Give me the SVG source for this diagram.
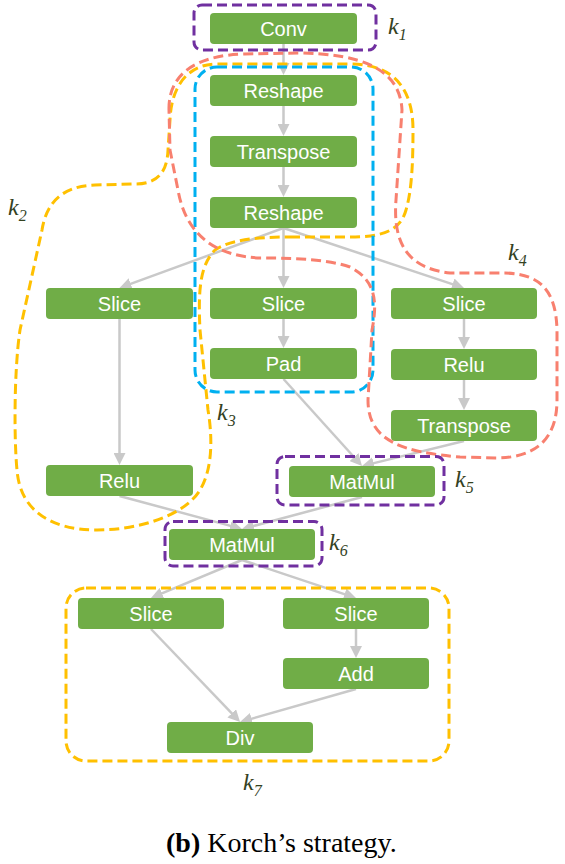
<svg xmlns="http://www.w3.org/2000/svg" width="565" height="864" viewBox="0 0 565 864">
<style>
.n rect{fill:#70AD47;}
.n text{fill:#FFFFFF;font-family:"Liberation Sans",Arial,sans-serif;font-size:20px;text-anchor:middle;}
.e path{fill:none;stroke:#C9C9C9;stroke-width:2.5;marker-end:url(#arr);}
.g{fill:none;stroke-width:3;stroke-dasharray:10 5;}
.pu{stroke:#7030A0;}
.ye{stroke:#FFC000;}
.re{stroke:#F8806F;}
.bl{stroke:#00B0F0;}
.k{font-family:"Liberation Serif","Times New Roman",serif;font-style:italic;font-size:24px;fill:#34421F;}
.k tspan{font-size:16px;}
</style>
<defs>
<marker id="arr" markerWidth="12" markerHeight="12" refX="6" refY="6" orient="auto" markerUnits="userSpaceOnUse">
<path d="M0,0 L12,6 L0,12 Z" fill="#C9C9C9"/>
</marker>
</defs>
<rect width="565" height="864" fill="#FFFFFF"/>
<g id="connectors" class="e">
<path d="M283.5,44 L283.5,69"/>
<path d="M283.5,106 L283.5,130"/>
<path d="M283.5,167 L283.5,191"/>
<path d="M283.5,228 L125.1,285.9"/>
<path d="M283.5,228 L283.5,282"/>
<path d="M283.5,228 L458.3,286.1"/>
<path d="M119.5,319 L119.5,459"/>
<path d="M283.5,319 L283.5,342"/>
<path d="M464,319 L464,343"/>
<path d="M464,380 L464,404"/>
<path d="M283.5,379 L358,461.5"/>
<path d="M464,441 L367.8,464.6"/>
<path d="M119.5,496 L236.2,527.4"/>
<path d="M362,497 L247.8,527.5"/>
<path d="M242,560 L156.5,595.7"/>
<path d="M242,560 L350.3,596.1"/>
<path d="M151,629 L235.9,717.7"/>
<path d="M356,629 L356,652"/>
<path d="M356,689 L245.8,720.4"/>
</g>
<g id="conv" class="n"><rect x="210" y="13" width="147" height="31" rx="4"/><text x="283.5" y="35.5">Conv</text></g>
<g id="reshape1" class="n"><rect x="210" y="75" width="147" height="31" rx="4"/><text x="283.5" y="97.5">Reshape</text></g>
<g id="transpose1" class="n"><rect x="210" y="136" width="147" height="31" rx="4"/><text x="283.5" y="158.5">Transpose</text></g>
<g id="reshape2" class="n"><rect x="210" y="197" width="147" height="31" rx="4"/><text x="283.5" y="219.5">Reshape</text></g>
<g id="slice_l" class="n"><rect x="46" y="288" width="147" height="31" rx="4"/><text x="119.5" y="310.5">Slice</text></g>
<g id="slice_m" class="n"><rect x="210" y="288" width="147" height="31" rx="4"/><text x="283.5" y="310.5">Slice</text></g>
<g id="slice_r" class="n"><rect x="391" y="288" width="146" height="31" rx="4"/><text x="464" y="310.5">Slice</text></g>
<g id="pad" class="n"><rect x="210" y="348" width="147" height="31" rx="4"/><text x="283.5" y="370.5">Pad</text></g>
<g id="relu_r" class="n"><rect x="391" y="349" width="146" height="31" rx="4"/><text x="464" y="371.5">Relu</text></g>
<g id="transpose_r" class="n"><rect x="391" y="410" width="146" height="31" rx="4"/><text x="464" y="432.5">Transpose</text></g>
<g id="relu_l" class="n"><rect x="46" y="465" width="147" height="31" rx="4"/><text x="119.5" y="487.5">Relu</text></g>
<g id="matmul5" class="n"><rect x="289" y="466" width="146" height="31" rx="4"/><text x="362" y="488.5">MatMul</text></g>
<g id="matmul6" class="n"><rect x="169" y="529" width="146" height="31" rx="4"/><text x="242" y="551.5">MatMul</text></g>
<g id="slice_bl" class="n"><rect x="78" y="598" width="146" height="31" rx="4"/><text x="151" y="620.5">Slice</text></g>
<g id="slice_br" class="n"><rect x="283" y="598" width="146" height="31" rx="4"/><text x="356" y="620.5">Slice</text></g>
<g id="add" class="n"><rect x="283" y="658" width="146" height="31" rx="4"/><text x="356" y="680.5">Add</text></g>
<g id="div" class="n"><rect x="167" y="722" width="146" height="31" rx="4"/><text x="240" y="744.5">Div</text></g>
<g id="groups">
<rect id="k1" class="g pu" x="194" y="5" width="182" height="45" rx="8"/>
<path id="k2" class="g ye" d="M290,237 L350,237 C380,237 400,232 406,210 C412,190 413,160 413,130 C413,90 395,64 350,64 L215,64 C185,65 171,90 170,120 L168,150 C167,175 155,184 135,184 L95,185 C60,186 46,205 42,230 L20,330 C14,370 14,440 17,470 C20,510 50,530 97,530 C140,530 185,515 200,490 C212,470 213,440 208,410 L200,330 C198,290 200,265 215,250 C230,240 255,237 290,237 Z"/>
<rect id="k3" class="g bl" x="195" y="67" width="178" height="325" rx="22"/>
<path id="k4" class="g re" d="M169,110 C168,75 195,55 245,54 L300,53 C360,54 400,68 402,110 L396,200 C393,240 405,268 450,273 L505,273 C540,274 556,290 557,330 L557,400 C557,440 535,458 495,458 L460,457 C400,452 368,440 368,400 L372,330 C378,300 375,280 350,267 C330,260 300,258 260,258 C210,256 185,230 178,190 L170,150 Z"/>
<rect id="k5" class="g pu" x="277" y="456.5" width="167" height="48.5" rx="8"/>
<rect id="k6" class="g pu" x="165" y="521.5" width="157" height="44.5" rx="8"/>
<rect id="k7" class="g ye" x="66" y="588" width="383" height="173" rx="20"/>
</g>
<g id="labels">
<text class="k" x="388" y="34">k<tspan dy="6">1</tspan></text>
<text class="k" x="8" y="215">k<tspan dy="6">2</tspan></text>
<text class="k" x="217" y="420">k<tspan dy="6">3</tspan></text>
<text class="k" x="508" y="260">k<tspan dy="6">4</tspan></text>
<text class="k" x="455" y="487">k<tspan dy="6">5</tspan></text>
<text class="k" x="329" y="550">k<tspan dy="6">6</tspan></text>
<text class="k" x="243" y="790">k<tspan dy="6">7</tspan></text>
</g>
<text x="166" y="852" font-family="'Liberation Serif','Times New Roman',serif" font-size="28" fill="#000000"><tspan font-weight="bold">(b)</tspan> Korch’s strategy.</text>
</svg>
